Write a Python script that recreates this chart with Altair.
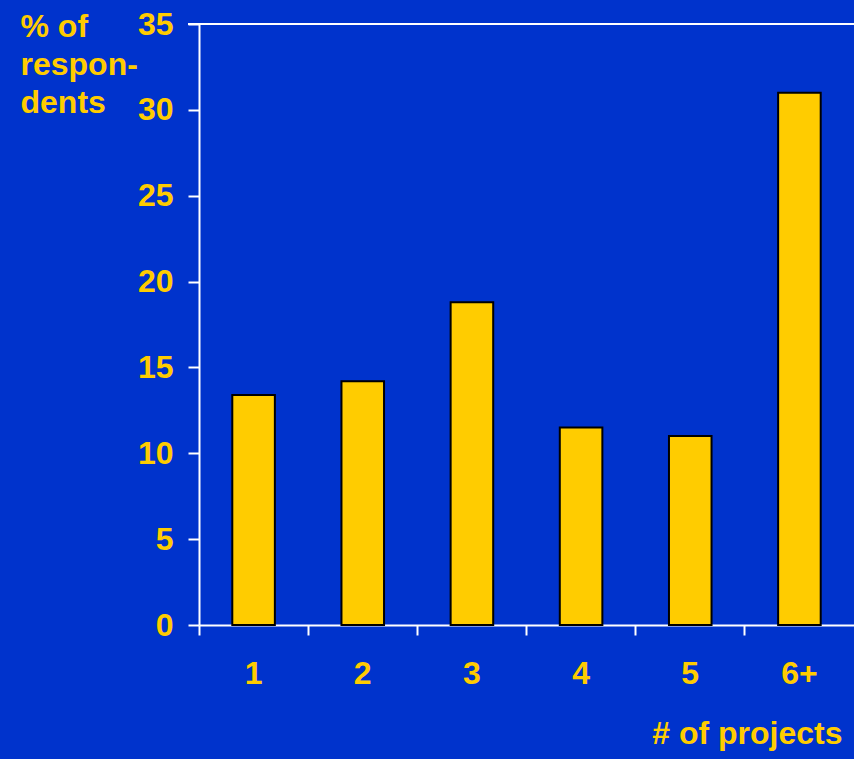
import altair as alt
import pandas as pd

categories = ["1", "2", "3", "4", "5", "6+"]
values = [13.4, 14.2, 18.8, 11.5, 11.0, 31.0]

df = pd.DataFrame({"projects": categories, "pct": values})

YELLOW = "#FFCC00"
BLUE = "#0033CC"
FONT = "Liberation Sans"
FS = 32

bars = alt.Chart(df).mark_bar(
    fill=YELLOW, stroke="black", strokeWidth=2,
    width=alt.RelativeBandSize(0.39)
).encode(
    x=alt.X("projects:N", sort=categories,
            scale=alt.Scale(paddingInner=0, paddingOuter=0),
            axis=alt.Axis(
                title="# of projects", labelAngle=0, bandPosition=0,
                tickSize=10, tickWidth=2, domainWidth=2,
                domainColor="white", tickColor="white",
                labelColor=YELLOW, labelFont=FONT, labelFontSize=FS,
                labelFontWeight="bold", labelPadding=23,
                titleColor=YELLOW, titleFont=FONT, titleFontSize=FS,
                titleFontWeight="bold", titleAlign="right",
                titleAnchor="start", titleX=643, titleY=118,
                titleBaseline="alphabetic")),
    y=alt.Y("pct:Q", scale=alt.Scale(domain=[0, 35]),
            axis=alt.Axis(
                values=[0, 5, 10, 15, 20, 25, 30, 35],
                title=["% of", "respon-", "dents"], titleAngle=0,
                titleAlign="left", titleBaseline="alphabetic",
                titleX=-179, titleY=12, titleLineHeight=38,
                titleColor=YELLOW, titleFont=FONT, titleFontSize=FS,
                titleFontWeight="bold",
                grid=False, tickSize=11, tickWidth=2, domainWidth=2,
                domainColor="white", tickColor="white",
                labelColor=YELLOW, labelFont=FONT, labelFontSize=FS,
                labelFontWeight="bold", labelPadding=15)),
)

top_rule = alt.Chart(pd.DataFrame({"v": [35]})).mark_rule(
    color="white", strokeWidth=2
).encode(y="v:Q", x=alt.value(-11), x2=alt.value(700))

chart = alt.layer(bars, top_rule).properties(
    width=655, height=601,
    background=BLUE,
    autosize=alt.AutoSizeParams(type="none"),
    padding={"left": 199, "top": 24, "right": 0, "bottom": 134},
).configure_view(stroke=None)

chart.save("out.html", embed_options={"renderer": "svg", "actions": False})
